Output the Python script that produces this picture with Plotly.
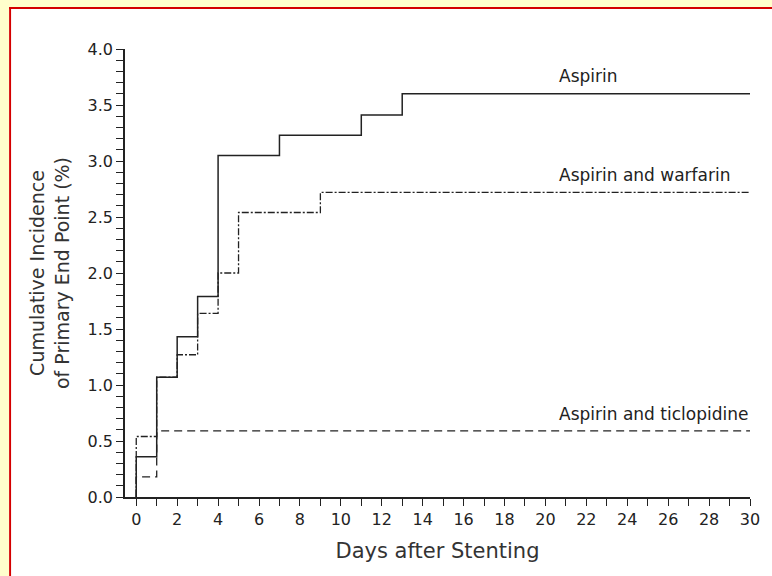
import plotly.graph_objects as go

# Data
aspirin_x = [0, 0, 1, 2, 3, 4, 7, 11, 13, 30]
aspirin_y = [0, 0.36, 1.07, 1.43, 1.79, 3.05, 3.23, 3.41, 3.60, 3.60]

warfarin_x = [0, 0, 1, 2, 3, 4, 5, 9, 30]
warfarin_y = [0, 0.54, 1.07, 1.27, 1.64, 2.00, 2.54, 2.72, 2.72]

ticlo_x = [0, 0, 1, 30]
ticlo_y = [0, 0.18, 0.59, 0.59]

labels = ["Aspirin", "Aspirin and warfarin", "Aspirin and ticlopidine"]
label_y = [3.76, 2.875, 0.74]
label_x = 20.55

FONT = "DejaVu Sans"
INK = "#222222"
PAGE = "#FFFFCC"
RED = "#d40000"

fig = go.Figure()
fig.add_trace(go.Scatter(x=aspirin_x, y=aspirin_y, mode="lines", line_shape="hv",
                         line=dict(color=INK, width=1.5), name=labels[0]))
fig.add_trace(go.Scatter(x=warfarin_x, y=warfarin_y, mode="lines", line_shape="hv",
                         line=dict(color=INK, width=1.3, dash="7px,2px,2px,2px"), name=labels[1]))
fig.add_trace(go.Scatter(x=ticlo_x, y=ticlo_y, mode="lines", line_shape="hv",
                         line=dict(color=INK, width=1.3, dash="8px,5px"), name=labels[2]))

for t, yy in zip(labels, label_y):
    fig.add_annotation(x=label_x, y=yy, text=t, showarrow=False, xanchor="left",
                       yanchor="middle", font=dict(family=FONT, size=17, color=INK))

# page decoration: yellow strip on left/top, red border line inside it
def band(x0, y0, x1, y1, color):
    fig.add_shape(type="rect", xref="paper", yref="paper", x0=x0, y0=y0, x1=x1, y1=y1,
                  fillcolor=color, line=dict(width=0), layer="below")

band(-0.2, -0.2, -0.1854, 1.12, PAGE)      # left yellow strip
band(-0.2, 1.0938, 1.1, 1.12, PAGE)        # top yellow strip
band(-0.1854, -0.2, -0.1823, 1.0938, RED)  # left red rule
band(-0.1854, 1.0893, 1.1, 1.0938, RED)    # top red rule

fig.update_layout(
    width=772, height=576,
    margin=dict(l=125, r=12, t=49, b=79),
    paper_bgcolor="white", plot_bgcolor="white",
    showlegend=False,
    font=dict(family=FONT, color=INK),
)
fig.update_xaxes(
    range=[-0.55, 30], showgrid=False, zeroline=False,
    showline=True, linecolor=INK, linewidth=1.5,
    ticks="outside", ticklen=7, tickwidth=1.2, tickcolor=INK,
    tick0=0, dtick=2,
    minor=dict(ticks="outside", ticklen=7, tickwidth=1.2, tickcolor=INK, dtick=1, tick0=0, showgrid=False),
    tickfont=dict(family=FONT, size=16, color=INK),
    title=dict(text="Days after Stenting", font=dict(family=FONT, size=21, color="#333333"), standoff=15),
)
fig.update_yaxes(
    range=[0, 4], showgrid=False, zeroline=False,
    showline=True, linecolor=INK, linewidth=1.5,
    ticks="outside", ticklen=7, tickwidth=1.2, tickcolor=INK,
    tick0=0, dtick=0.5, tickformat=".1f",
    minor=dict(ticks="outside", ticklen=7, tickwidth=1.2, tickcolor=INK, dtick=0.1, tick0=0, showgrid=False),
    tickfont=dict(family=FONT, size=16, color=INK),
    title=dict(text="Cumulative Incidence<br>of Primary End Point (%)",
               font=dict(family=FONT, size=19, color="#333333"), standoff=13),
)

fig.write_html(
    "out.html",
    config={"displayModeBar": False, "responsive": False},
    post_script="document.body.style.margin='0';"
                "document.documentElement.style.overflow='hidden';",
)
